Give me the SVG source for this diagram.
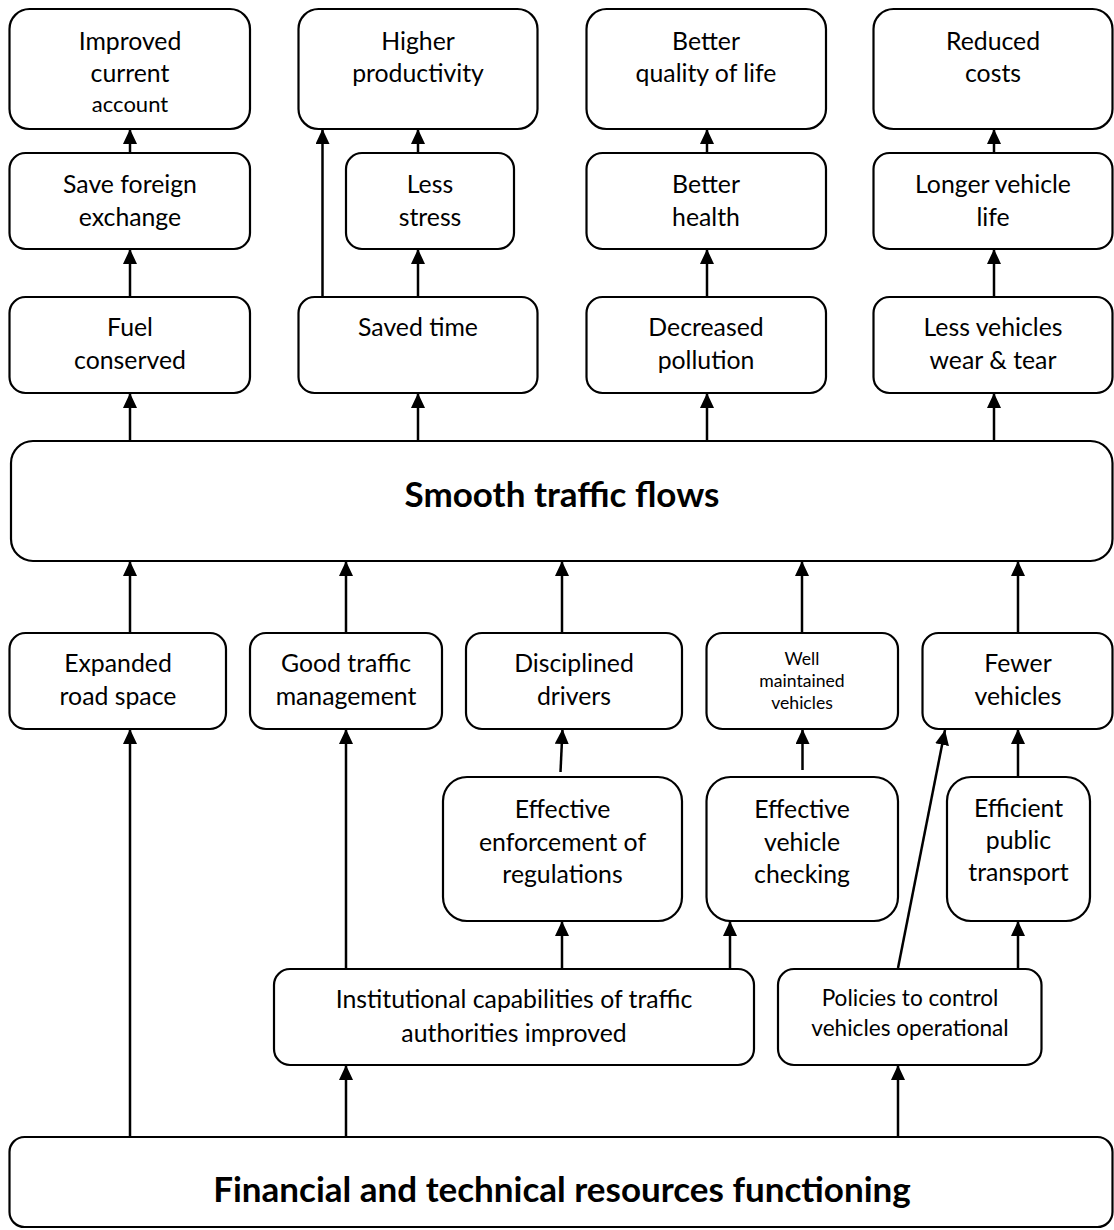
<svg xmlns="http://www.w3.org/2000/svg" width="1114" height="1230" viewBox="0 0 1114 1230">
<style>
rect{fill:#fff;stroke:#000;stroke-width:2.2}
text{font-family:Lato,"Liberation Sans",sans-serif;font-size:24.8px;fill:#000;text-anchor:middle}
.b{font-weight:bold;font-size:35px}
.s{font-size:17.6px}
.m{font-size:22.6px}
.a{font-size:22px}
#connectors line{stroke:#000;stroke-width:2.5;marker-end:url(#ah)}
</style>
<defs>
<marker id="ah" markerUnits="userSpaceOnUse" markerWidth="16" markerHeight="16" viewBox="0 0 16 16" refX="15" refY="7" orient="auto"><path d="M0,0 L15,7 L0,14 z" fill="#000"/></marker>
</defs>
<g id="connectors">
<line x1="130" y1="297" x2="130" y2="249"/>
<line x1="130" y1="153" x2="130" y2="129"/>
<line x1="322.5" y1="297" x2="322.5" y2="129"/>
<line x1="418" y1="297" x2="418" y2="249"/>
<line x1="418" y1="153" x2="418" y2="129"/>
<line x1="707" y1="297" x2="707" y2="249"/>
<line x1="707" y1="153" x2="707" y2="129"/>
<line x1="994" y1="297" x2="994" y2="249"/>
<line x1="994" y1="153" x2="994" y2="129"/>
<line x1="130" y1="441" x2="130" y2="393"/>
<line x1="418" y1="441" x2="418" y2="393"/>
<line x1="707" y1="441" x2="707" y2="393"/>
<line x1="994" y1="441" x2="994" y2="393"/>
<line x1="130" y1="633" x2="130" y2="561"/>
<line x1="346" y1="633" x2="346" y2="561"/>
<line x1="562" y1="633" x2="562" y2="561"/>
<line x1="802" y1="633" x2="802" y2="561"/>
<line x1="1018" y1="633" x2="1018" y2="561"/>
<line x1="130" y1="1137" x2="130" y2="729"/>
<line x1="346" y1="969" x2="346" y2="729"/>
<line x1="560.5" y1="772" x2="562.5" y2="729"/>
<line x1="802.5" y1="770" x2="802.5" y2="729"/>
<line x1="1018" y1="777" x2="1018" y2="729"/>
<line x1="898" y1="968" x2="945" y2="730"/>
<line x1="562" y1="969" x2="562" y2="921"/>
<line x1="730" y1="969" x2="730" y2="921"/>
<line x1="1018" y1="969" x2="1018" y2="921"/>
<line x1="346" y1="1137" x2="346" y2="1065"/>
<line x1="898" y1="1137" x2="898" y2="1065"/>
</g>
<g id="improved-current-account"><rect x="9.5" y="9" width="240.5" height="120" rx="20"/><text x="130" y="50">Improved</text><text x="130" y="82">current</text><text x="130" y="112" class="a">account</text></g>
<g id="higher-productivity"><rect x="298.5" y="9" width="239" height="120" rx="20"/><text x="418" y="50">Higher</text><text x="418" y="82">productivity</text></g>
<g id="better-quality-of-life"><rect x="586.5" y="9" width="239.5" height="120" rx="20"/><text x="706" y="50">Better</text><text x="706" y="82">quality of life</text></g>
<g id="reduced-costs"><rect x="873.5" y="9" width="239" height="120" rx="20"/><text x="993" y="50">Reduced</text><text x="993" y="82">costs</text></g>
<g id="save-foreign-exchange"><rect x="9.5" y="153" width="240.5" height="96" rx="16"/><text x="130" y="193">Save foreign</text><text x="130" y="226">exchange</text></g>
<g id="less-stress"><rect x="346" y="153" width="168" height="96" rx="16"/><text x="430" y="193">Less</text><text x="430" y="226">stress</text></g>
<g id="better-health"><rect x="586.5" y="153" width="239.5" height="96" rx="16"/><text x="706" y="193">Better</text><text x="706" y="226">health</text></g>
<g id="longer-vehicle-life"><rect x="873.5" y="153" width="239" height="96" rx="16"/><text x="993" y="193">Longer vehicle</text><text x="993" y="226">life</text></g>
<g id="fuel-conserved"><rect x="9.5" y="297" width="240.5" height="96" rx="16"/><text x="130" y="336">Fuel</text><text x="130" y="369">conserved</text></g>
<g id="saved-time"><rect x="298.5" y="297" width="239" height="96" rx="16"/><text x="418" y="336">Saved time</text></g>
<g id="decreased-pollution"><rect x="586.5" y="297" width="239.5" height="96" rx="16"/><text x="706" y="336">Decreased</text><text x="706" y="369">pollution</text></g>
<g id="less-vehicles-wear-tear"><rect x="873.5" y="297" width="239" height="96" rx="16"/><text x="993" y="336">Less vehicles</text><text x="993" y="369">wear &amp; tear</text></g>
<g id="smooth-traffic-flows"><rect x="11" y="441" width="1101.5" height="120" rx="22"/><text x="562" y="507" class="b">Smooth traffic flows</text></g>
<g id="expanded-road-space"><rect x="9.5" y="633" width="216.5" height="96" rx="16"/><text x="118" y="672">Expanded</text><text x="118" y="705">road space</text></g>
<g id="good-traffic-management"><rect x="250" y="633" width="192" height="96" rx="16"/><text x="346" y="672">Good traffic</text><text x="346" y="705">management</text></g>
<g id="disciplined-drivers"><rect x="466" y="633" width="216" height="96" rx="16"/><text x="574" y="672">Disciplined</text><text x="574" y="705">drivers</text></g>
<g id="well-maintained-vehicles"><rect x="706.5" y="633" width="191.5" height="96" rx="16"/><text x="802" y="665" class="s">Well</text><text x="802" y="687" class="s">maintained</text><text x="802" y="709" class="s">vehicles</text></g>
<g id="fewer-vehicles"><rect x="922.5" y="633" width="190" height="96" rx="16"/><text x="1018" y="672">Fewer</text><text x="1018" y="705">vehicles</text></g>
<g id="effective-enforcement"><rect x="443" y="777" width="239" height="144" rx="24"/><text x="562.5" y="818">Effective</text><text x="562.5" y="851">enforcement of</text><text x="562.5" y="883">regulations</text></g>
<g id="effective-vehicle-checking"><rect x="706.5" y="777" width="191.5" height="144" rx="24"/><text x="802" y="818">Effective</text><text x="802" y="851">vehicle</text><text x="802" y="883">checking</text></g>
<g id="efficient-public-transport"><rect x="947" y="777" width="143" height="144" rx="24"/><text x="1018.5" y="817">Efficient</text><text x="1018.5" y="849">public</text><text x="1018.5" y="881">transport</text></g>
<g id="institutional-capabilities"><rect x="274" y="969" width="480" height="96" rx="16"/><text x="514" y="1008">Institutional capabilities of traffic</text><text x="514" y="1042">authorities improved</text></g>
<g id="policies-control-vehicles"><rect x="778" y="969" width="263.5" height="96" rx="16"/><text x="910" y="1006" class="m">Policies to control</text><text x="910" y="1036" class="m">vehicles operational</text></g>
<g id="financial-technical-resources"><rect x="9.5" y="1137" width="1103" height="90" rx="15"/><text x="562" y="1202" class="b">Financial and technical resources functioning</text></g>
</svg>
